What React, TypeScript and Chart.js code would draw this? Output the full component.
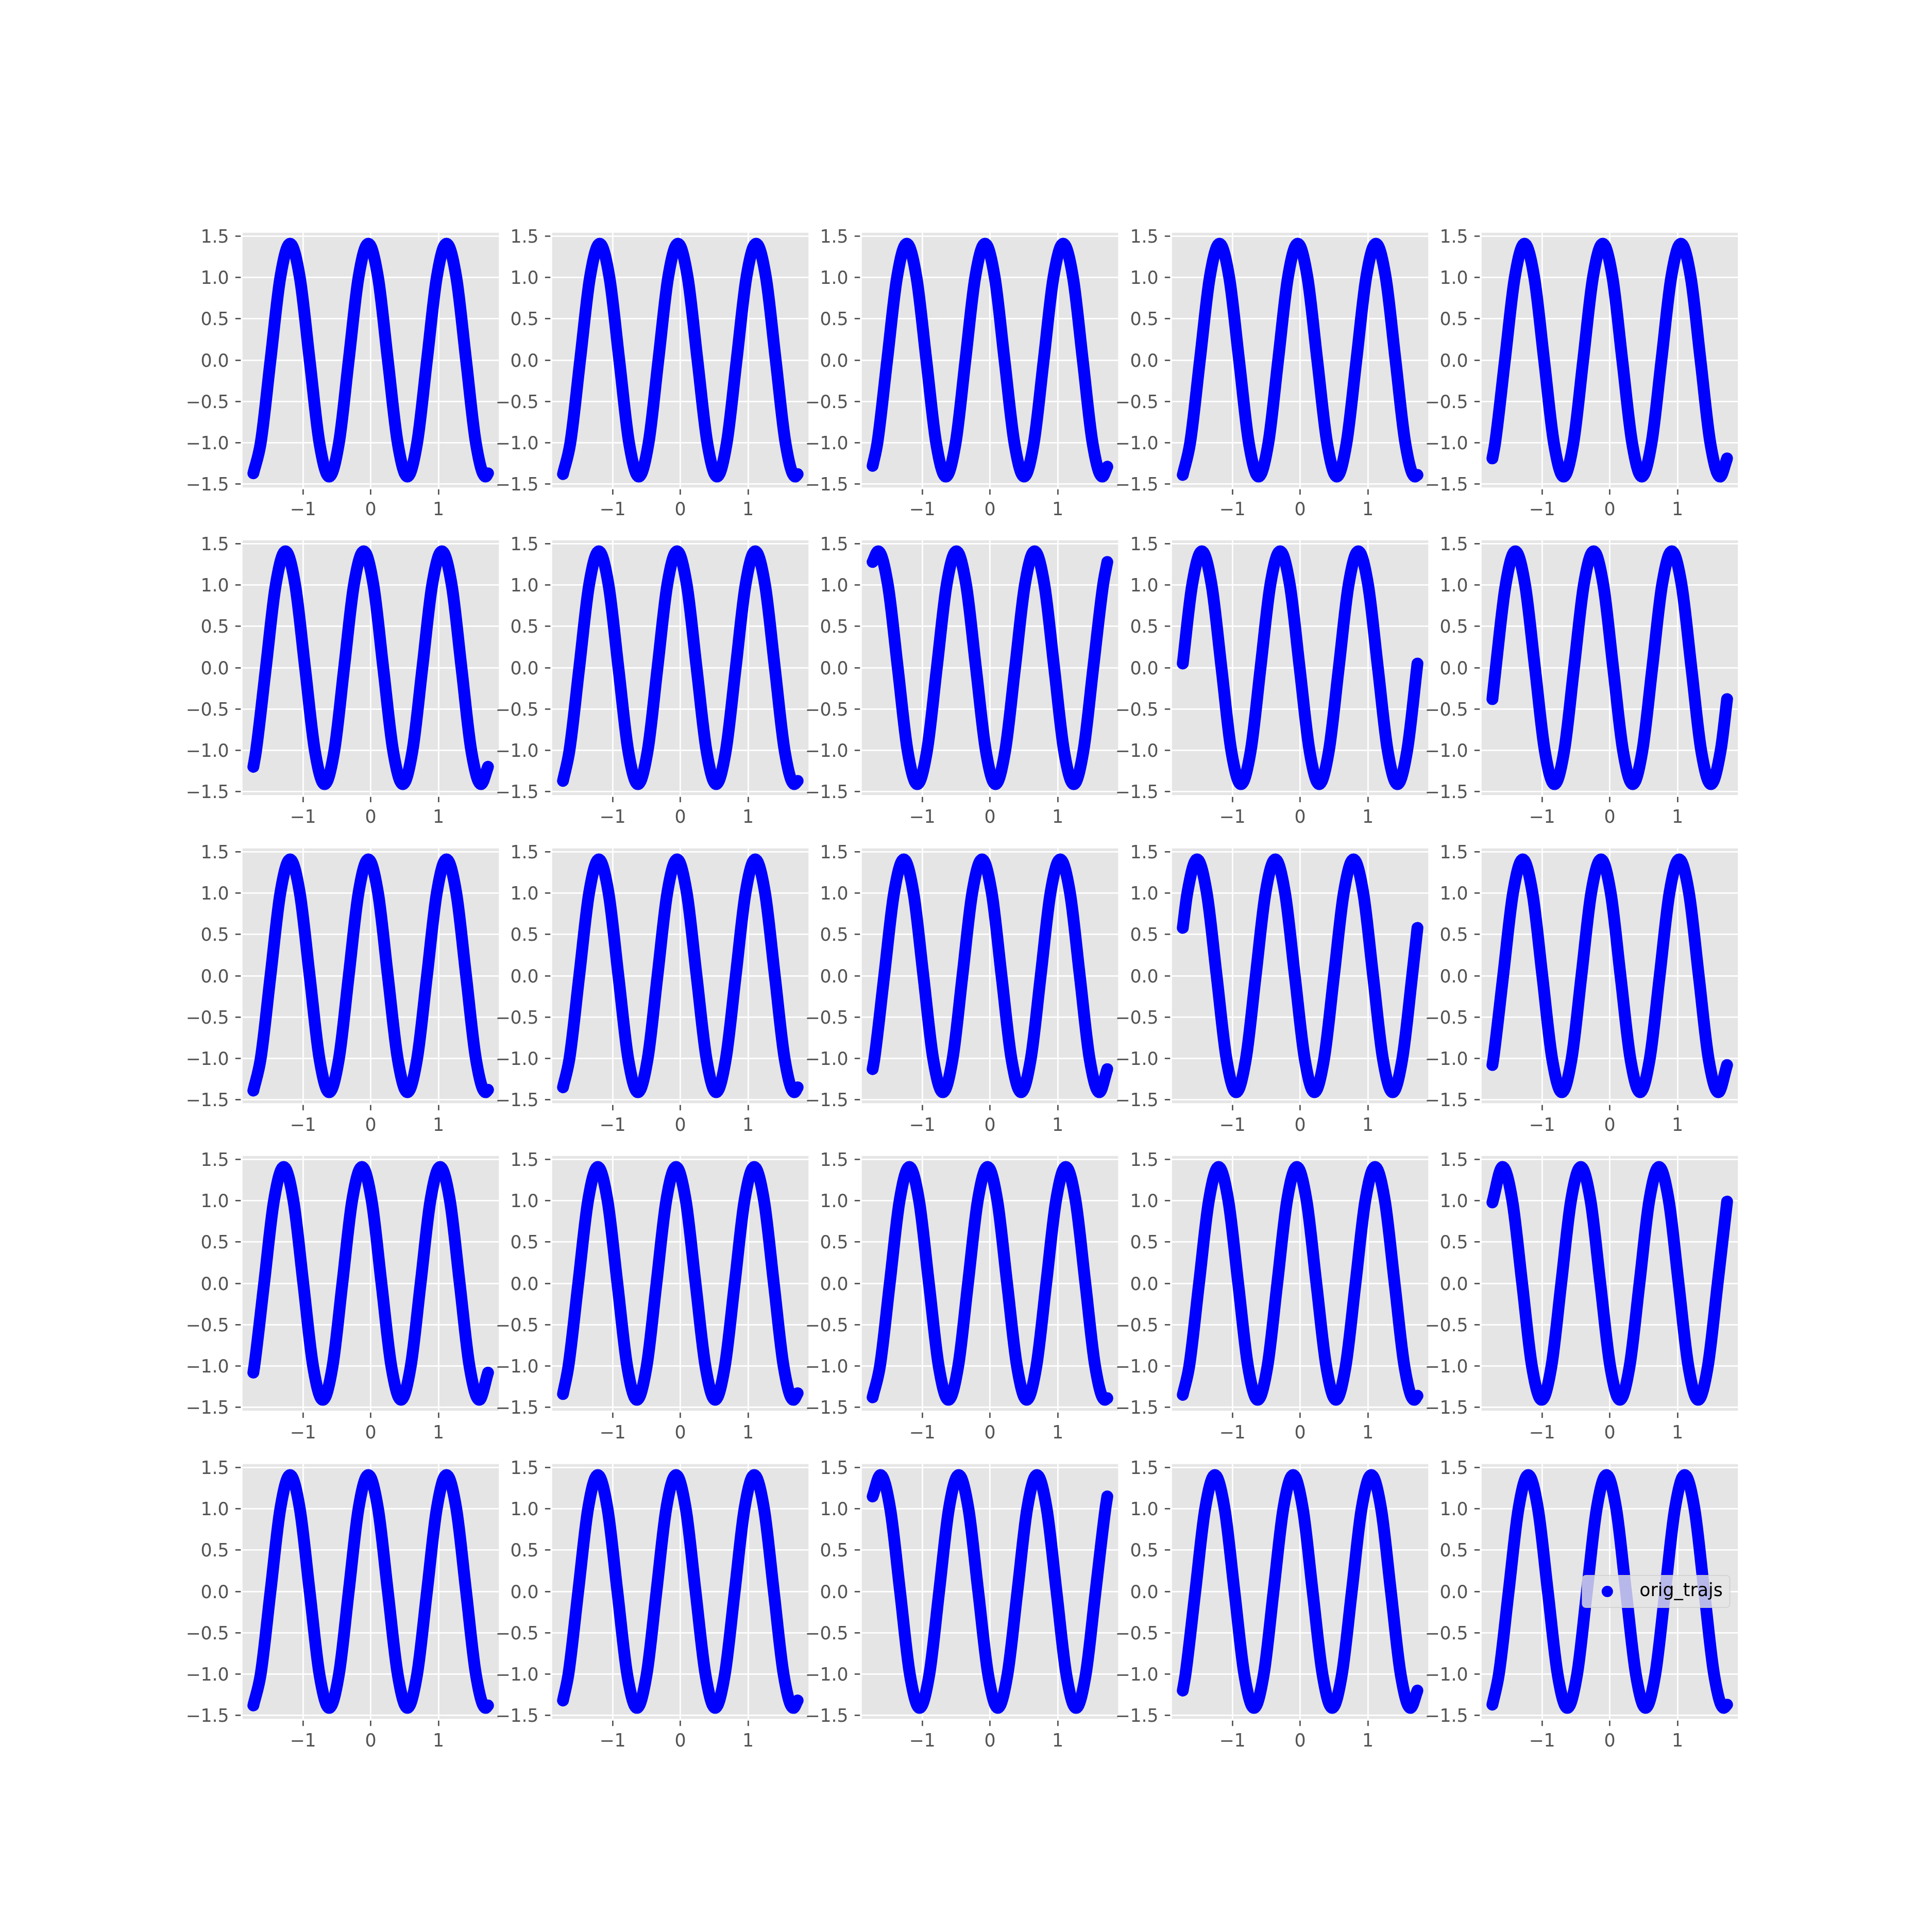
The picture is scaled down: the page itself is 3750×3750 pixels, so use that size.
import React, { useEffect, useRef } from 'react';
import { Chart, registerables } from 'chart.js';

Chart.register(...registerables);

// ---------------- data ----------------
const SERIES_LABEL = 'orig_trajs';
const X_TICKS = [-1, 0, 1];
const Y_TICKS = [-1.5, -1.0, -0.5, 0.0, 0.5, 1.0, 1.5];
const X_RANGE = [-1.905, 1.905];
const Y_RANGE = [-1.553, 1.553];
// first and last x of every trajectory
const X_FIRST = -1.732;
const X_LAST = 1.732;

// x positions where a trace passes its peaks, troughs and the 1.0 / 0 / -1.0 levels
const xKeyC1 = [-1.623, -1.479, -1.334, -1.190, -1.046, -0.901, -0.757, -0.613, -0.468, -0.324, -0.180, -0.035, 0.109, 0.253, 0.398, 0.542, 0.686, 0.831, 0.975, 1.119, 1.264, 1.408, 1.552, 1.697];
const xKeyC2 = [-1.636, -1.492, -1.347, -1.203, -1.059, -0.914, -0.770, -0.626, -0.481, -0.337, -0.193, -0.048, 0.096, 0.240, 0.385, 0.529, 0.673, 0.818, 0.962, 1.106, 1.251, 1.395, 1.539, 1.684];
const xKeyC3 = [-1.651, -1.507, -1.362, -1.218, -1.074, -0.929, -0.785, -0.641, -0.496, -0.352, -0.208, -0.063, 0.081, 0.225, 0.370, 0.514, 0.658, 0.803, 0.947, 1.091, 1.236, 1.380, 1.524, 1.669];
const xKeyC4 = [-1.661, -1.517, -1.372, -1.228, -1.084, -0.939, -0.795, -0.651, -0.506, -0.362, -0.218, -0.073, 0.071, 0.215, 0.360, 0.504, 0.648, 0.793, 0.937, 1.081, 1.226, 1.370, 1.514, 1.659];
const xKeyC5 = [-1.691, -1.547, -1.402, -1.258, -1.114, -0.969, -0.825, -0.681, -0.536, -0.392, -0.248, -0.103, 0.041, 0.185, 0.330, 0.474, 0.618, 0.763, 0.907, 1.051, 1.196, 1.340, 1.484, 1.629];
const xKeyC6 = [-1.705, -1.561, -1.416, -1.272, -1.128, -0.983, -0.839, -0.695, -0.550, -0.406, -0.262, -0.117, 0.027, 0.171, 0.316, 0.460, 0.604, 0.749, 0.893, 1.037, 1.182, 1.326, 1.470, 1.615];
const xKeyC7 = [-1.717, -1.573, -1.428, -1.284, -1.140, -0.995, -0.851, -0.707, -0.562, -0.418, -0.274, -0.129, 0.015, 0.159, 0.304, 0.448, 0.592, 0.737, 0.881, 1.025, 1.170, 1.314, 1.458, 1.603];
const yKeyA = [-1.0, 0, 1.0, 1.41, 1.0, 0, -1.0, -1.41, -1.0, 0, 1.0, 1.41, 1.0, 0, -1.0, -1.41, -1.0, 0, 1.0, 1.41, 1.0, 0, -1.0, -1.41];

const xKey23 = [-1.650, -1.506, -1.361, -1.217, -1.073, -0.928, -0.784, -0.640, -0.495, -0.351, -0.207, -0.062, 0.082, 0.226, 0.371, 0.515, 0.659, 0.804, 0.948, 1.092, 1.237, 1.381, 1.525, 1.670];
const xKey53 = [-1.616, -1.472, -1.327, -1.183, -1.039, -0.894, -0.750, -0.606, -0.461, -0.317, -0.173, -0.028, 0.116, 0.260, 0.405, 0.549, 0.693, 0.838, 0.982, 1.126, 1.271, 1.415, 1.559, 1.704];
const yKeyB = [1.41, 1.0, 0, -1.0, -1.41, -1.0, 0, 1.0, 1.41, 1.0, 0, -1.0, -1.41, -1.0, 0, 1.0, 1.41, 1.0, 0, -1.0, -1.41, -1.0, 0, 1.0];

const xKey24 = [-1.594, -1.450, -1.306, -1.161, -1.017, -0.873, -0.728, -0.584, -0.440, -0.295, -0.151, -0.007, 0.138, 0.282, 0.426, 0.571, 0.715, 0.859, 1.004, 1.148, 1.292, 1.437, 1.581];
const yKey24 = [1.0, 1.41, 1.0, 0, -1.0, -1.41, -1.0, 0, 1.0, 1.41, 1.0, 0, -1.0, -1.41, -1.0, 0, 1.0, 1.41, 1.0, 0, -1.0, -1.41, -1.0];

const xKey25 = [-1.682, -1.537, -1.393, -1.249, -1.104, -0.960, -0.816, -0.671, -0.527, -0.383, -0.238, -0.094, 0.050, 0.195, 0.339, 0.483, 0.628, 0.772, 0.916, 1.061, 1.205, 1.349, 1.494, 1.638];
const yKey25 = [0, 1.0, 1.41, 1.0, 0, -1.0, -1.41, -1.0, 0, 1.0, 1.41, 1.0, 0, -1.0, -1.41, -1.0, 0, 1.0, 1.41, 1.0, 0, -1.0, -1.41, -1.0];

const xKey34 = [-1.665, -1.521, -1.377, -1.232, -1.088, -0.944, -0.799, -0.655, -0.511, -0.366, -0.222, -0.078, 0.067, 0.211, 0.355, 0.500, 0.644, 0.788, 0.933, 1.077, 1.221, 1.366, 1.510, 1.654];
const yKey34 = [1.0, 1.41, 1.0, 0, -1.0, -1.41, -1.0, 0, 1.0, 1.41, 1.0, 0, -1.0, -1.41, -1.0, 0, 1.0, 1.41, 1.0, 0, -1.0, -1.41, -1.0, 0];

const xKey45 = [-1.582, -1.438, -1.293, -1.149, -1.005, -0.860, -0.716, -0.572, -0.427, -0.283, -0.139, 0.006, 0.150, 0.294, 0.439, 0.583, 0.727, 0.872, 1.016, 1.160, 1.305, 1.449, 1.593];
const yKey45 = [1.41, 1.0, 0, -1.0, -1.41, -1.0, 0, 1.0, 1.41, 1.0, 0, -1.0, -1.41, -1.0, 0, 1.0, 1.41, 1.0, 0, -1.0, -1.41, -1.0, 0];

// panels in row-major order (5 x 5)
const panelKeyX = [
  xKeyC1, xKeyC1, xKeyC4, xKeyC1, xKeyC5,
  xKeyC5, xKeyC2, xKey23, xKey24, xKey25,
  xKeyC1, xKeyC2, xKeyC6, xKey34, xKeyC7,
  xKeyC7, xKeyC3, xKeyC1, xKeyC2, xKey45,
  xKeyC1, xKeyC3, xKey53, xKeyC5, xKeyC2,
];
const panelKeyY = [
  yKeyA, yKeyA, yKeyA, yKeyA, yKeyA,
  yKeyA, yKeyA, yKeyB, yKey24, yKey25,
  yKeyA, yKeyA, yKeyA, yKey34, yKeyA,
  yKeyA, yKeyA, yKeyA, yKeyA, yKey45,
  yKeyA, yKeyA, yKeyB, yKeyA, yKeyA,
];
const panelStartY = [
  -1.37, -1.38, -1.28, -1.39, -1.19,
  -1.20, -1.37, 1.28, 0.05, -0.38,
  -1.39, -1.35, -1.13, 0.58, -1.08,
  -1.08, -1.34, -1.38, -1.35, 0.98,
  -1.38, -1.32, 1.15, -1.20, -1.37,
];
const panelEndY = [
  -1.37, -1.38, -1.29, -1.39, -1.19,
  -1.20, -1.37, 1.28, 0.05, -0.38,
  -1.38, -1.35, -1.13, 0.58, -1.08,
  -1.08, -1.33, -1.39, -1.36, 0.99,
  -1.38, -1.32, 1.15, -1.20, -1.37,
];

// ---------------- layout & style ----------------
const ROWS = 5;
const COLS = 5;
const AX_LEFT0 = 468.75;
const AX_TOP0 = 450;
const AX_W = 501;
const AX_H = 498;
const COL_STEP = 601.293;
const ROW_STEP = 597.414;
const PAD_L = 140;
const PAD_R = 30;
const PAD_T = 40;
const PAD_B = 90;
const FONT_PX = 34.72;
const TRACE_COLOR = '#0000FF';
const TICK_COLOR = '#555555';
const AX_BG = '#E5E5E5';

const xTickFont = { family: 'DejaVu Sans', size: FONT_PX };
// a small line height lets the blank first line nudge each y label down to matplotlib's baseline
const yTickFont = { family: 'DejaVu Sans', size: FONT_PX, lineHeight: '7px' };

const fmtMinus = (s: string) => s.replace('-', '\u2212');

const axesDecor = {
  id: 'axesDecor',
  beforeDraw(chart: any) {
    const { ctx, chartArea: a } = chart;
    ctx.save();
    ctx.fillStyle = AX_BG;
    ctx.fillRect(a.left, a.top, a.right - a.left, a.bottom - a.top);
    ctx.restore();
  },
  afterDatasetsDraw(chart: any) {
    const { ctx, chartArea: a } = chart;
    ctx.save();
    ctx.strokeStyle = '#FFFFFF';
    ctx.lineWidth = 3.47;
    ctx.strokeRect(a.left, a.top, a.right - a.left, a.bottom - a.top);
    ctx.restore();
  },
};

const legendBox = {
  id: 'legendBox',
  afterDatasetsDraw(chart: any) {
    const { ctx, chartArea: a } = chart;
    const fs = FONT_PX;
    const pad = 0.4 * fs;
    const handleLen = 2.0 * fs;
    const textPad = 0.8 * fs;
    const axPad = 0.5 * fs;
    ctx.save();
    ctx.font = `${fs}px "DejaVu Sans"`;
    const tw = ctx.measureText(SERIES_LABEL).width;
    const w = pad + handleLen + textPad + tw + pad;
    const h = 2 * pad + 34.6;
    const right = a.right - axPad;
    const left = right - w;
    const cy = (a.top + a.bottom) / 2;
    const top = cy - h / 2;
    const r = 0.2 * fs;
    ctx.beginPath();
    ctx.moveTo(left + r, top);
    ctx.lineTo(left + w - r, top);
    ctx.arcTo(left + w, top, left + w, top + r, r);
    ctx.lineTo(left + w, top + h - r);
    ctx.arcTo(left + w, top + h, left + w - r, top + h, r);
    ctx.lineTo(left + r, top + h);
    ctx.arcTo(left, top + h, left, top + h - r, r);
    ctx.lineTo(left, top + r);
    ctx.arcTo(left, top, left + r, top, r);
    ctx.closePath();
    ctx.fillStyle = 'rgba(229,229,229,0.8)';
    ctx.fill();
    ctx.strokeStyle = 'rgba(204,204,204,0.8)';
    ctx.lineWidth = 1.74;
    ctx.stroke();
    ctx.fillStyle = TRACE_COLOR;
    ctx.beginPath();
    ctx.arc(left + pad + handleLen / 2, cy, 11, 0, Math.PI * 2);
    ctx.fill();
    ctx.fillStyle = '#000000';
    ctx.textAlign = 'left';
    ctx.textBaseline = 'alphabetic';
    ctx.fillText(SERIES_LABEL, left + pad + handleLen + textPad, cy + 9);
    ctx.restore();
  },
};

function Panel({ index }: { index: number }) {
  const ref = useRef<HTMLCanvasElement>(null);
  const r = Math.floor(index / COLS);
  const c = index % COLS;
  const axLeft = Math.round(AX_LEFT0 + c * COL_STEP);
  const axTop = Math.round(AX_TOP0 + r * ROW_STEP);
  const W = AX_W + PAD_L + PAD_R;
  const H = AX_H + PAD_T + PAD_B;

  useEffect(() => {
    const keyX = panelKeyX[index];
    const keyY = panelKeyY[index];
    const points = [
      { x: X_FIRST, y: panelStartY[index] },
      ...keyX.map((x, i) => ({ x, y: keyY[i] })),
      { x: X_LAST, y: panelEndY[index] },
    ];
    const gridOpts = {
      color: '#FFFFFF',
      lineWidth: 2.78,
      drawTicks: true,
      tickColor: TICK_COLOR,
      tickLength: 12.15,
      tickWidth: 2.78,
    };
    const chart = new Chart(ref.current as HTMLCanvasElement, {
      type: 'line',
      data: {
        datasets: [
          {
            label: SERIES_LABEL,
            data: points,
            borderColor: TRACE_COLOR,
            backgroundColor: TRACE_COLOR,
            borderWidth: 23,
            pointRadius: 0,
            pointHoverRadius: 0,
            cubicInterpolationMode: 'monotone',
            borderCapStyle: 'round',
            borderJoinStyle: 'round',
            fill: false,
          } as any,
        ],
      },
      options: {
        responsive: false,
        maintainAspectRatio: false,
        animation: false,
        devicePixelRatio: 1,
        events: [],
        layout: { padding: { left: 0, right: PAD_R, top: PAD_T, bottom: 0 } },
        plugins: { legend: { display: false }, tooltip: { enabled: false } },
        scales: {
          x: {
            type: 'linear',
            min: X_RANGE[0],
            max: X_RANGE[1],
            afterBuildTicks: (ax: any) => {
              ax.ticks = X_TICKS.map((v) => ({ value: v }));
            },
            afterFit: (ax: any) => {
              ax.height = PAD_B;
            },
            ticks: {
              callback: (v: any) => fmtMinus(String(Number(v))),
              font: xTickFont,
              color: TICK_COLOR,
              padding: 10.5,
              maxRotation: 0,
              minRotation: 0,
              autoSkip: false,
            },
            grid: gridOpts,
            border: { display: false },
          },
          y: {
            type: 'linear',
            min: Y_RANGE[0],
            max: Y_RANGE[1],
            afterBuildTicks: (ax: any) => {
              ax.ticks = Y_TICKS.map((v) => ({ value: v }));
            },
            afterFit: (ax: any) => {
              ax.width = PAD_L;
            },
            ticks: {
              callback: (v: any) => ['', fmtMinus(Number(v).toFixed(1))],
              font: yTickFont,
              color: TICK_COLOR,
              padding: 12.15,
              autoSkip: false,
            },
            grid: gridOpts,
            border: { display: false },
          },
        },
      } as any,
      plugins: index === ROWS * COLS - 1 ? [axesDecor, legendBox] : [axesDecor],
    });
    return () => chart.destroy();
  }, [index]);

  return (
    <canvas
      ref={ref}
      width={W}
      height={H}
      style={{ position: 'absolute', left: axLeft - PAD_L, top: axTop - PAD_T, width: W, height: H }}
    />
  );
}

export default function App() {
  const panels = [];
  for (let i = 0; i < ROWS * COLS; i++) panels.push(<Panel key={i} index={i} />);
  return (
    <div style={{ position: 'absolute', left: 0, top: 0, width: 3750, height: 3750, background: '#FFFFFF', overflow: 'hidden' }}>
      {panels}
    </div>
  );
}
